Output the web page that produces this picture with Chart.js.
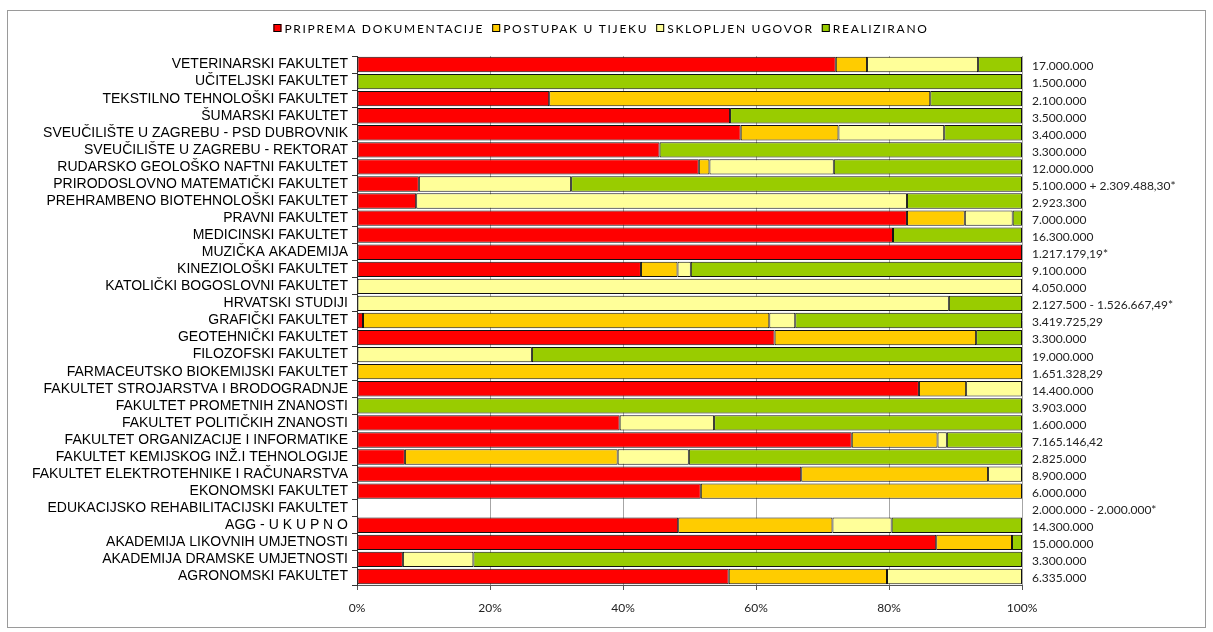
<!DOCTYPE html>
<html>
<head>
<meta charset="utf-8">
<script src="https://cdn.jsdelivr.net/npm/chart.js@4"></script>
<style>
  html, body { margin: 0; padding: 0; background: #fff; }
  #wrap { width: 1213px; height: 632px; }
</style>
</head>
<body>
<div id="wrap"><canvas id="status-chart" width="1213" height="632"></canvas></div>
<script>
// Fakulteti (redoslijed odozgo prema dolje)
const categories = [
    'VETERINARSKI FAKULTET', 'UČITELJSKI FAKULTET', 'TEKSTILNO TEHNOLOŠKI FAKULTET', 'ŠUMARSKI FAKULTET',
    'SVEUČILIŠTE U ZAGREBU - PSD DUBROVNIK', 'SVEUČILIŠTE U ZAGREBU - REKTORAT', 'RUDARSKO GEOLOŠKO NAFTNI FAKULTET',
    'PRIRODOSLOVNO MATEMATIČKI FAKULTET', 'PREHRAMBENO BIOTEHNOLOŠKI FAKULTET', 'PRAVNI FAKULTET',
    'MEDICINSKI FAKULTET', 'MUZIČKA AKADEMIJA', 'KINEZIOLOŠKI FAKULTET', 'KATOLIČKI BOGOSLOVNI FAKULTET',
    'HRVATSKI STUDIJI', 'GRAFIČKI FAKULTET', 'GEOTEHNIČKI FAKULTET', 'FILOZOFSKI FAKULTET',
    'FARMACEUTSKO BIOKEMIJSKI FAKULTET', 'FAKULTET STROJARSTVA I BRODOGRADNJE', 'FAKULTET PROMETNIH ZNANOSTI',
    'FAKULTET POLITIČKIH ZNANOSTI', 'FAKULTET ORGANIZACIJE I INFORMATIKE', 'FAKULTET KEMIJSKOG INŽ.I TEHNOLOGIJE',
    'FAKULTET ELEKTROTEHNIKE I RAČUNARSTVA', 'EKONOMSKI FAKULTET', 'EDUKACIJSKO REHABILITACIJSKI FAKULTET',
    'AGG - U K U P N O', 'AKADEMIJA LIKOVNIH UMJETNOSTI', 'AKADEMIJA DRAMSKE UMJETNOSTI', 'AGRONOMSKI FAKULTET'
];

// Udjeli (%) po statusu
const priprema  = [72.0, 0, 28.9, 56.1, 57.7, 45.5, 51.4, 9.3, 8.9, 82.7, 80.6, 100, 42.7, 0, 0, 0.9, 62.8, 0, 0, 84.5, 0, 39.5, 74.4, 7.2, 66.8, 51.7, 0, 48.3, 87.1, 6.9, 55.9];
const postupak  = [4.7, 0, 57.3, 0, 14.7, 0, 1.6, 0, 0, 8.7, 0, 0, 5.5, 0, 0, 61.1, 30.3, 0, 100, 7.1, 0, 0, 12.9, 32.0, 28.1, 48.3, 0, 23.2, 11.4, 0, 23.8];
const sklopljen = [16.7, 0, 0, 0, 15.9, 0, 18.7, 22.9, 73.8, 7.2, 0, 0, 2.0, 100, 89.0, 3.9, 0, 26.3, 0, 8.4, 0, 14.2, 1.4, 10.7, 5.1, 0, 0, 8.9, 0, 10.6, 20.3];
const realizirano = [6.6, 100, 13.8, 43.9, 11.7, 54.5, 28.3, 67.8, 17.3, 1.4, 19.4, 0, 49.8, 0, 11.0, 34.1, 6.9, 73.7, 0, 0, 100, 46.3, 11.3, 50.1, 0, 0, 0, 19.6, 1.5, 82.5, 0];

// Iznosi desno od stupaca
const iznosi = [
    '17.000.000', '1.500.000', '2.100.000', '3.500.000', '3.400.000', '3.300.000', '12.000.000',
    '5.100.000 + 2.309.488,30*', '2.923.300', '7.000.000', '16.300.000', '1.217.179,19*', '9.100.000',
    '4.050.000', '2.127.500 - 1.526.667,49*', '3.419.725,29', '3.300.000', '19.000.000', '1.651.328,29',
    '14.400.000', '3.903.000', '1.600.000', '7.165.146,42', '2.825.000', '8.900.000', '6.000.000',
    '2.000.000 - 2.000.000*', '14.300.000', '15.000.000', '3.300.000', '6.335.000'
];

const xTicks = [0, 20, 40, 60, 80, 100];

// okvir i pozadina
const framePlugin = {
    id: 'frame',
    beforeDraw(chart) {
        const ctx = chart.ctx;
        ctx.save();
        ctx.fillStyle = '#fff';
        ctx.fillRect(0, 0, chart.width, chart.height);
        ctx.strokeStyle = '#9a9a9a';
        ctx.lineWidth = 1;
        ctx.strokeRect(7.5, 10.5, 1198, 617);
        ctx.restore();
    }
};

// iznosi uz desni rub
const amountsPlugin = {
    id: 'amounts',
    afterDatasetsDraw(chart) {
        const ctx = chart.ctx;
        const y = chart.scales.y;
        ctx.save();
        ctx.font = '12px Lato, "DejaVu Sans", sans-serif';
        ctx.fillStyle = '#222';
        ctx.textAlign = 'left';
        ctx.textBaseline = 'middle';
        iznosi.forEach((txt, i) => {
            ctx.fillText(txt, chart.chartArea.right + 10, y.getPixelForValue(i) + 2);
        });
        ctx.restore();
    }
};

// legenda s razmaknutim slovima
const legendPlugin = {
    id: 'spacedLegend',
    afterDraw(chart) {
        const ctx = chart.ctx;
        ctx.save();
        ctx.font = '12px Lato, "DejaVu Sans", sans-serif';
        ctx.letterSpacing = '1.7px';
        ctx.textBaseline = 'middle';
        const items = chart.data.datasets.map(ds => ({ text: ds.label, color: ds.backgroundColor }));
        const box = 8, gap = 3, itemGap = 8;
        let total = 0;
        items.forEach(it => { it.w = ctx.measureText(it.text).width; total += box + gap + it.w; });
        total += itemGap * (items.length - 1);
        let x = 601 - total / 2;
        const yc = 28;
        items.forEach(it => {
            ctx.fillStyle = it.color;
            ctx.fillRect(x, yc - box / 2, box, box);
            ctx.strokeStyle = '#000';
            ctx.lineWidth = 1;
            ctx.strokeRect(x + 0.5, yc - box / 2 + 0.5, box - 1, box - 1);
            ctx.fillStyle = '#000';
            ctx.fillText(it.text, x + box + gap, yc + 1);
            x += box + gap + it.w + itemGap;
        });
        ctx.restore();
    }
};

document.addEventListener('DOMContentLoaded', () => {
    const ctx = document.getElementById('status-chart').getContext('2d');
    const common = { borderColor: '#111', borderWidth: 1, borderSkipped: false, categoryPercentage: 0.9, barPercentage: 1 };
    new Chart(ctx, {
        type: 'bar',
        data: {
            labels: categories,
            datasets: [
                { label: 'PRIPREMA DOKUMENTACIJE', data: priprema, backgroundColor: '#ff0000', ...common },
                { label: 'POSTUPAK U TIJEKU', data: postupak, backgroundColor: '#ffcc00', ...common },
                { label: 'SKLOPLJEN UGOVOR', data: sklopljen, backgroundColor: '#ffff99', ...common },
                { label: 'REALIZIRANO', data: realizirano, backgroundColor: '#99cc00', ...common }
            ]
        },
        options: {
            indexAxis: 'y',
            responsive: false,
            animation: false,
            layout: { padding: { top: 56, right: 191, left: 0, bottom: 0 } },
            plugins: {
                legend: { display: false },
                tooltip: { enabled: false }
            },
            scales: {
                x: {
                    stacked: true,
                    min: 0,
                    max: 100,
                    afterBuildTicks: scale => { scale.ticks = xTicks.map(v => ({ value: v })); },
                    afterFit: scale => { scale.height = 47; },
                    ticks: {
                        callback: v => v + '%',
                        font: { family: 'Lato, "DejaVu Sans", sans-serif', size: 12 },
                        color: '#222',
                        padding: 11,
                        maxRotation: 0
                    },
                    grid: { color: '#a6a6a6', tickLength: 5, tickColor: '#555' },
                    border: { color: '#555' }
                },
                y: {
                    stacked: true,
                    afterFit: scale => { scale.width = 357; },
                    ticks: {
                        font: { family: '"Liberation Sans", Arial, sans-serif', size: 14 },
                        color: '#000',
                        padding: 4,
                        autoSkip: false
                    },
                    grid: { drawOnChartArea: false, tickLength: 5, color: '#333' },
                    border: { color: '#333' }
                }
            }
        },
        plugins: [framePlugin, amountsPlugin, legendPlugin]
    });
});
</script>
</body>
</html>
